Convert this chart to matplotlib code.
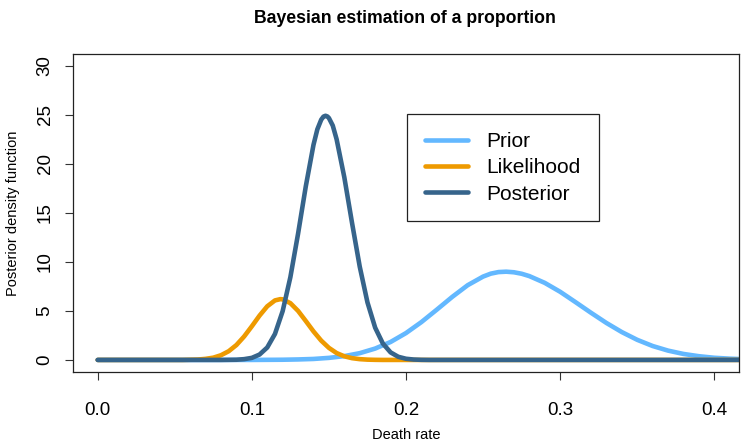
import matplotlib
matplotlib.use("Agg")
import matplotlib.pyplot as plt

# ---------------- data ----------------
prior_x = [0.00, 0.10, 0.11, 0.12, 0.13, 0.14, 0.15, 0.16, 0.17, 0.18, 0.19,
           0.20, 0.21, 0.22, 0.23, 0.24, 0.25, 0.255, 0.26, 0.265, 0.27, 0.275,
           0.28, 0.29, 0.30, 0.31, 0.32, 0.33, 0.34, 0.35, 0.36, 0.37, 0.38,
           0.39, 0.40, 0.41, 0.42, 0.43]
prior_y = [0.00, 0.00, 0.01, 0.02, 0.05, 0.10, 0.21, 0.39, 0.69, 1.16, 1.83,
           2.74, 3.86, 5.13, 6.43, 7.62, 8.50, 8.80, 8.96, 9.00, 8.94, 8.79,
           8.55, 7.86, 6.95, 5.89, 4.81, 3.77, 2.84, 2.05, 1.42, 0.95, 0.61,
           0.38, 0.22, 0.13, 0.07, 0.04]

lik_x = [0.00, 0.055, 0.06, 0.065, 0.07, 0.075, 0.08, 0.085, 0.09, 0.095, 0.10,
         0.105, 0.11, 0.115, 0.1185, 0.12, 0.125, 0.13, 0.135, 0.14, 0.145,
         0.15, 0.155, 0.16, 0.165, 0.17, 0.175, 0.18, 0.185, 0.43]
lik_y = [0.00, 0.00, 0.02, 0.04, 0.11, 0.23, 0.48, 0.89, 1.52, 2.39, 3.43,
         4.52, 5.47, 6.07, 6.20, 6.18, 5.79, 5.00, 3.97, 2.91, 1.97,
         1.23, 0.70, 0.37, 0.18, 0.08, 0.03, 0.01, 0.00, 0.00]

post_x = [0.00, 0.08, 0.085, 0.09, 0.095, 0.10, 0.105, 0.11, 0.115, 0.12, 0.125,
          0.13, 0.135, 0.14, 0.1425, 0.145, 0.1465, 0.1478, 0.149, 0.15, 0.1525,
          0.155, 0.16, 0.165, 0.17, 0.175, 0.18, 0.185, 0.19, 0.195, 0.20,
          0.205, 0.21, 0.215, 0.43]
post_y = [0.00, 0.00, 0.01, 0.02, 0.08, 0.21, 0.55, 1.27, 2.65, 4.98, 8.44,
          12.88, 17.70, 21.94, 23.52, 24.50, 24.82, 24.90, 24.83, 24.67, 23.90,
          22.50, 18.62, 13.97, 9.51, 5.87, 3.29, 1.67, 0.77, 0.32, 0.12,
          0.04, 0.01, 0.00, 0.00]

series_names = ["Prior", "Likelihood", "Posterior"]
series_colors = ["#63B8FF", "#EE9A00", "#36648B"]

x_ticks = [0.0, 0.1, 0.2, 0.3, 0.4]
x_tick_labels = ["0.0", "0.1", "0.2", "0.3", "0.4"]
y_ticks = [0, 5, 10, 15, 20, 25, 30]

title = "Bayesian estimation of a proportion"
x_label = "Death rate"
y_label = "Posterior density function"

# ---------------- figure ----------------
plt.rcParams['font.family'] = ['Liberation Sans', 'DejaVu Sans']

W, H = 746, 447
fig = plt.figure(figsize=(W / 100, H / 100), dpi=100)
ax_l, ax_r, ax_t, ax_b = 73.0, 739.3, 54.0, 371.7
ax = fig.add_axes([ax_l / W, 1 - ax_b / H, (ax_r - ax_l) / W, (ax_b - ax_t) / H])

for xs, ys, name, col in zip([prior_x, lik_x, post_x], [prior_y, lik_y, post_y],
                             series_names, series_colors):
    ax.plot(xs, ys, color=col, lw=3.3, label=name,
            solid_capstyle='round', solid_joinstyle='round')

ax.set_xlim(-0.016, 0.4162)
ax.set_ylim(-1.2, 31.2)

ax.set_xticks(x_ticks)
ax.set_xticklabels(x_tick_labels)
ax.set_yticks(y_ticks)
ax.tick_params(axis='both', direction='out', length=6, width=0.8,
               labelsize=13.5, color='#333333')
ax.tick_params(axis='x', pad=16)
ax.tick_params(axis='y', pad=8)
for lab in ax.get_yticklabels():
    lab.set_rotation(90)
    lab.set_va('center')

for sp in ax.spines.values():
    sp.set_linewidth(0.9)
    sp.set_color('#222222')

ax.set_xlabel(x_label, fontsize=10.5)
ax.xaxis.label.set_va('center')
ax.xaxis.set_label_coords(0.5, (ax_b - 435) / (ax_b - ax_t))
ax.set_ylabel(y_label, fontsize=10.5)
ax.yaxis.label.set_va('center')
ax.yaxis.set_label_coords((13.5 - ax_l) / (ax_r - ax_l), 0.5)

fig.text(405 / W, 1 - 18.5 / H, title, ha='center', va='center',
         fontsize=12.7, fontweight='bold')

leg = ax.legend(loc='upper left',
                bbox_to_anchor=((406.7 - ax_l) / (ax_r - ax_l), (ax_b - 114) / (ax_b - ax_t)),
                fontsize=15, frameon=True, fancybox=False, shadow=False,
                borderaxespad=0, borderpad=0.86, handlelength=2.07,
                handletextpad=0.9, labelspacing=0.35)
leg.get_frame().set_edgecolor('#222222')
leg.get_frame().set_linewidth(0.9)
leg.get_frame().set_alpha(1)

fig.savefig("out.png", dpi=100)
